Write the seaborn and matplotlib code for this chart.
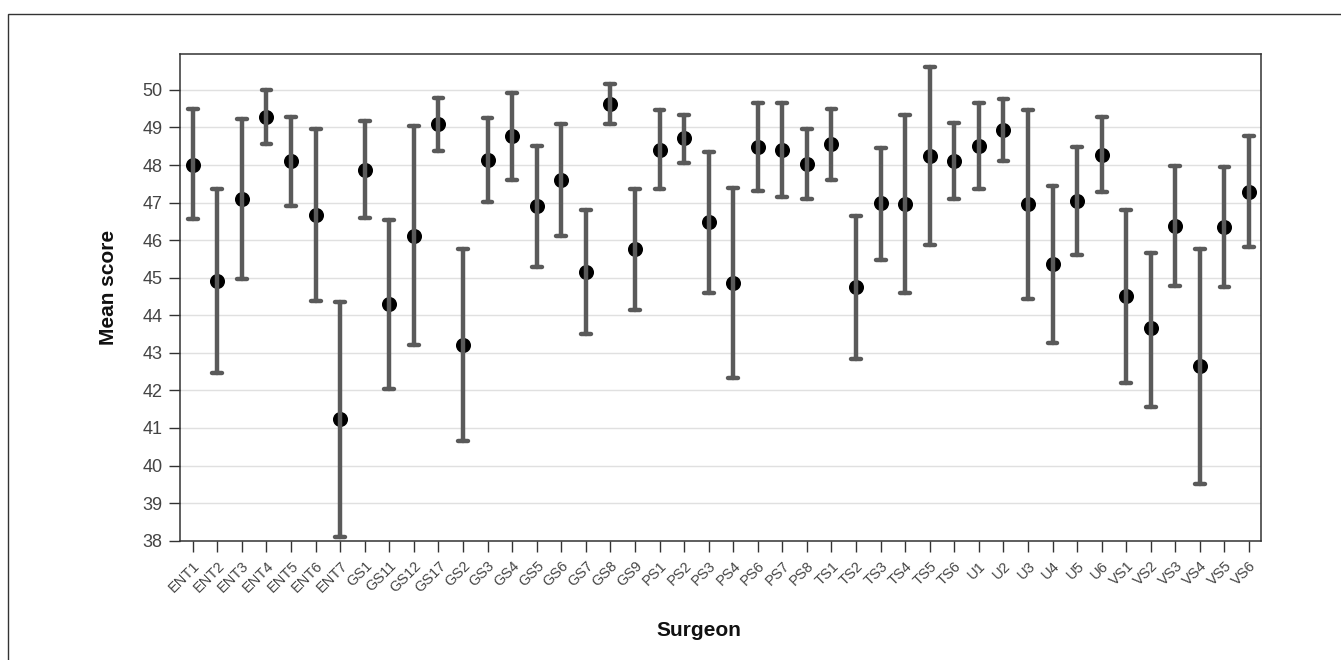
import matplotlib
matplotlib.use("Agg")
import matplotlib.pyplot as plt
import matplotlib.patches as mpatches
import pandas as pd
import seaborn as sns


surgeons = [
    "ENT1", "ENT2", "ENT3", "ENT4", "ENT5", "ENT6", "ENT7",
    "GS1", "GS11", "GS12", "GS17", "GS2", "GS3", "GS4", "GS5", "GS6", "GS7", "GS8", "GS9",
    "PS1", "PS2", "PS3", "PS4", "PS6", "PS7", "PS8",
    "TS1", "TS2", "TS3", "TS4", "TS5", "TS6",
    "U1", "U2", "U3", "U4", "U5", "U6",
    "VS1", "VS2", "VS3", "VS4", "VS5", "VS6",
]
mean_score = [
    48.01, 44.91, 47.09, 49.28, 48.10, 46.67, 41.23,
    47.88, 44.29, 46.12, 49.09, 43.22, 48.13, 48.77, 46.90, 47.60, 45.15, 49.63, 45.77,
    48.40, 48.71, 46.49, 44.86, 48.48, 48.40, 48.03,
    48.56, 44.76, 46.98, 46.96, 48.25, 48.12,
    48.51, 48.94, 46.96, 45.36, 47.04, 48.28,
    44.52, 43.66, 46.37, 42.66, 46.35, 47.29,
]
ci_low = [
    46.56, 42.46, 44.97, 48.56, 46.92, 44.38, 38.09,
    46.59, 42.04, 43.21, 48.38, 40.65, 47.01, 47.59, 45.28, 46.10, 43.50, 49.09, 44.15,
    47.35, 48.05, 44.60, 42.34, 47.30, 47.16, 47.10,
    47.61, 42.84, 45.47, 44.59, 45.87, 47.10,
    47.36, 48.12, 44.43, 43.26, 45.61, 47.28,
    42.19, 41.57, 44.77, 39.52, 44.76, 45.81,
]
ci_high = [
    49.49, 47.36, 49.22, 50.00, 49.27, 48.96, 44.35,
    49.18, 46.54, 49.04, 49.78, 45.76, 49.26, 49.93, 48.52, 49.08, 46.81, 50.15, 47.36,
    49.46, 49.33, 48.34, 47.39, 49.64, 49.64, 48.95,
    49.49, 46.64, 48.45, 49.33, 50.60, 49.12,
    49.64, 49.75, 49.47, 47.45, 48.47, 49.27,
    46.81, 45.67, 47.97, 45.77, 47.96, 48.77,
]

# three rows per surgeon: low, mean, high -> median gives the mean, min/max the interval
rows = []
for s, lo, m, hi in zip(surgeons, ci_low, mean_score, ci_high):
    for v in (lo, m, hi):
        rows.append({"Surgeon": s, "score": v})
df = pd.DataFrame(rows)

sns.set_style("white")
plt.rcParams["font.family"] = ["Liberation Sans", "DejaVu Sans"]

fig = plt.figure(figsize=(13.41, 6.6), dpi=100)
ax = fig.add_axes([0.1346, 0.1808, 0.8060, 0.7370])

sns.pointplot(
    data=df, x="Surgeon", y="score", order=surgeons,
    estimator="median", errorbar=lambda v: (v.min(), v.max()),
    color="black", linestyle="none", markers="o", markersize=8.8,
    capsize=0.4, err_kws={"color": "#5a5a5a", "linewidth": 3.2},
    zorder=4, ax=ax,
)

ax.set_xlim(-0.5, len(surgeons) - 0.5)
ax.set_ylim(38, 50.95)
ax.set_yticks(range(38, 51))

ax.yaxis.grid(True, color="#e0e0e0", linewidth=1.0)
ax.xaxis.grid(False)
ax.set_axisbelow(True)

for sp in ax.spines.values():
    sp.set_visible(True)
    sp.set_color("#333333")
    sp.set_linewidth(1.1)

ax.tick_params(axis="both", which="major", length=8, width=1, color="#333333",
               bottom=True, left=True)
ax.tick_params(axis="y", labelsize=13, labelcolor="#444444", pad=5)
ax.tick_params(axis="x", labelsize=10.5, labelcolor="#444444", pad=5)
for lab in ax.get_xticklabels():
    lab.set_rotation(45)
    lab.set_ha("right")
    lab.set_rotation_mode("anchor")

ax.set_xlabel("Surgeon", fontsize=15, fontweight="bold", color="#111111")
ax.set_ylabel("Mean score", fontsize=15, fontweight="bold", color="#111111")
ax.xaxis.label.set_va("center")
ax.yaxis.label.set_va("center")
ax.xaxis.set_label_coords(0.48, -0.184)
ax.yaxis.set_label_coords(-0.067, 0.52)

# outer frame around the figure
fig.add_artist(mpatches.Rectangle(
    (8 / 1341, -0.05), 1.1, 1 - 14 / 660 + 0.05,
    transform=fig.transFigure, fill=False, edgecolor="#333333", linewidth=1.0))

fig.savefig("out.png", dpi=100)
